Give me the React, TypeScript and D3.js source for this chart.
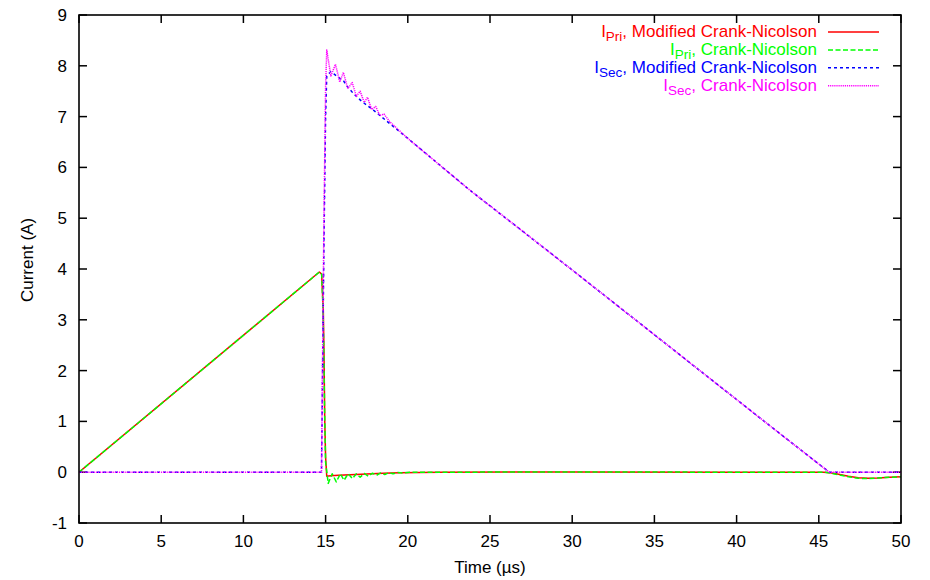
import React from "react";
import * as d3 from "d3";

const xTicks = [0, 5, 10, 15, 20, 25, 30, 35, 40, 45, 50];
const yTicks = [-1, 0, 1, 2, 3, 4, 5, 6, 7, 8, 9];

// [time µs, current A]
const priModifiedCN: [number, number][] = [
  [0, 0], [14.62, 3.94], [14.76, 3.9], [14.8, 3.6], [14.86, 3.2], [14.9, 2.4], [14.95, 1.0],
  [15.0, 0.3], [15.07, -0.08], [15.3, -0.07], [15.8, -0.06], [16.5, -0.05], [17.5, -0.035],
  [18.5, -0.02], [19.5, -0.01], [20.7, -0.005], [22, 0], [30, 0.005], [40, 0], [45.3, 0],
  [45.7, -0.01], [46.2, -0.04], [46.8, -0.08], [47.4, -0.11], [48, -0.12], [48.6, -0.115],
  [49.3, -0.1], [50, -0.09],
];

const priCN: [number, number][] = [
  [0, 0], [14.62, 3.94], [14.76, 3.9], [14.82, 3.4], [14.88, 2.6], [14.94, 1.2], [15.0, 0.2],
  [15.16, -0.22], [15.4, -0.03], [15.65, -0.19], [15.9, -0.03], [16.12, -0.16], [16.37, -0.03],
  [16.63, -0.125], [16.87, -0.03], [17.1, -0.1], [17.35, -0.025], [17.6, -0.08], [17.85, -0.02],
  [18.1, -0.06], [18.35, -0.015], [18.6, -0.045], [18.85, -0.01], [19.1, -0.03], [19.4, -0.005],
  [19.7, -0.015], [20.2, 0], [22, 0], [30, 0.005], [40, 0], [45.3, 0], [45.7, -0.015],
  [46.2, -0.05], [46.8, -0.09], [47.4, -0.12], [48, -0.125], [48.6, -0.115], [49.3, -0.1],
  [50, -0.09],
];

const secModifiedCN: [number, number][] = [
  [0, 0], [14.75, 0], [14.8, 1.5], [14.9, 4.5], [15.0, 7.0], [15.07, 7.8], [15.3, 7.88],
  [15.5, 7.84], [16.1, 7.7], [16.3, 7.6], [16.7, 7.45], [17.2, 7.3], [17.9, 7.13], [20, 6.57],
  [23.78, 5.55], [27, 4.74], [30, 3.98], [34.12, 2.93], [38, 1.94], [42, 0.92], [45.64, 0],
  [50, 0],
];

const secCN: [number, number][] = [
  [0, 0], [14.75, 0], [14.8, 1.8], [14.9, 5.0], [15.0, 7.6], [15.07, 8.31], [15.32, 7.8],
  [15.6, 8.03], [15.86, 7.68], [16.08, 7.87], [16.35, 7.55], [16.62, 7.67], [16.87, 7.4],
  [17.1, 7.5], [17.35, 7.28], [17.55, 7.38], [17.8, 7.14], [18.05, 7.2], [18.3, 7.02],
  [18.55, 7.05], [18.9, 6.9], [20, 6.57], [23.78, 5.55], [27, 4.74], [30, 3.98], [34.12, 2.93],
  [38, 1.94], [42, 0.92], [45.64, 0], [50, 0],
];

const seriesNames = ["Pri", "Pri", "Sec", "Sec"];
const seriesMethods = ["Modified Crank-Nicolson", "Crank-Nicolson", "Modified Crank-Nicolson", "Crank-Nicolson"];
const seriesColors = ["#ff0000", "#00ff00", "#0000ff", "#ff00ff"];
const seriesDash = ["none", "5,2.5", "3,3", "1.2,0.9"];

const W = 930;
const H = 580;
const L = 79, R = 901, T = 15, B = 523;
const FONT = "'Liberation Sans', Arial, Helvetica, sans-serif";

export default function App() {
  const x = d3.scaleLinear().domain([0, 50]).range([L, R]);
  const y = d3.scaleLinear().domain([-1, 9]).range([B, T]);
  const line = d3.line<[number, number]>().x((d) => x(d[0])).y((d) => y(d[1]));
  const data = [priModifiedCN, priCN, secModifiedCN, secCN];
  const tick = 8;

  return (
    <svg width={W} height={H} style={{ position: "absolute", left: 0, top: 0, background: "#fff" }}
      fontFamily={FONT}>
      <defs>
        <clipPath id="plot">
          <rect x={L} y={T} width={R - L} height={B - T} />
        </clipPath>
      </defs>
      <rect x={0} y={0} width={W} height={H} fill="#fff" />
      {/* ticks */}
      {xTicks.map((t) => (
        <g key={"x" + t}>
          <line x1={x(t)} x2={x(t)} y1={B} y2={B - tick} stroke="#000" strokeWidth={1.5} />
          <line x1={x(t)} x2={x(t)} y1={T} y2={T + tick} stroke="#000" strokeWidth={1.5} />
          <text x={x(t)} y={547} fontSize={17} textAnchor="middle" fill="#000">{t}</text>
        </g>
      ))}
      {yTicks.map((t) => (
        <g key={"y" + t}>
          <line x1={L} x2={L + tick} y1={y(t)} y2={y(t)} stroke="#000" strokeWidth={1.5} />
          <line x1={R} x2={R - tick} y1={y(t)} y2={y(t)} stroke="#000" strokeWidth={1.5} />
          <text x={67} y={y(t) + 6} fontSize={17} textAnchor="end" fill="#000">{t}</text>
        </g>
      ))}
      <text x={(L + R) / 2} y={573} fontSize={17} textAnchor="middle">Time (µs)</text>
      <text transform={`translate(33, 260) rotate(-90)`} fontSize={17} textAnchor="middle">Current (A)</text>

      {/* series */}
      <g clipPath="url(#plot)">
        {data.map((d, i) => (
          <path key={i} d={line(d) || ""} fill="none" stroke={seriesColors[i]} strokeWidth={1.5}
            strokeDasharray={seriesDash[i]} strokeLinejoin="round" />
        ))}
      </g>

      {/* legend */}
      {seriesNames.map((n, i) => {
        const by = 37 + i * 17.9;
        return (
          <g key={"lg" + i}>
            <text x={817} y={by} fontSize={17} textAnchor="end" fill={seriesColors[i]}>
              <tspan>I</tspan>
              <tspan fontSize={13.5} dy={4}>{n}</tspan>
              <tspan dy={-4}>{", " + seriesMethods[i]}</tspan>
            </text>
            <line x1={828} x2={879} y1={by - 5} y2={by - 5} stroke={seriesColors[i]} strokeWidth={1.5}
              strokeDasharray={seriesDash[i]} />
          </g>
        );
      })}

      {/* frame */}
      <rect x={L} y={T} width={R - L} height={B - T} fill="none" stroke="#000" strokeWidth={1.6} />
    </svg>
  );
}
